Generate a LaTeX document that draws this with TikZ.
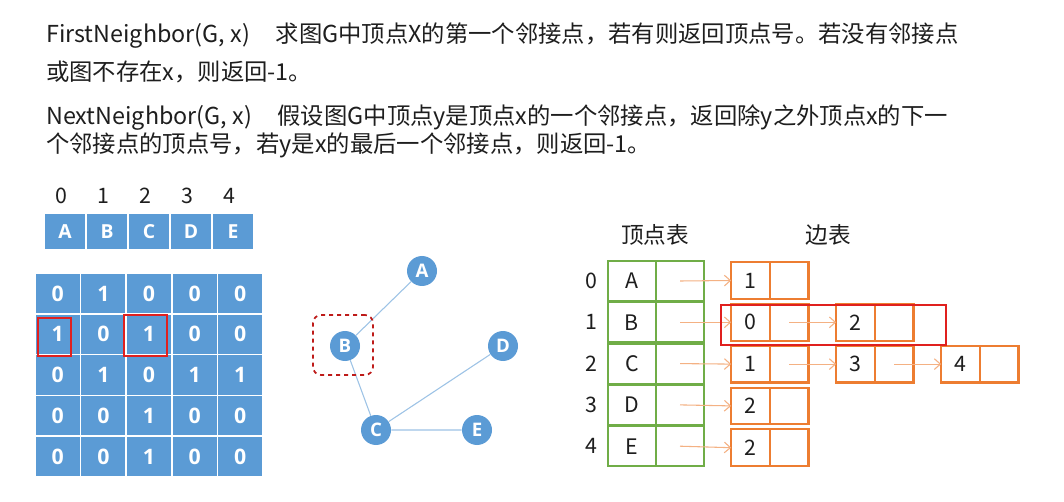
\documentclass[tikz,border=0pt]{standalone}
\usepackage{fontspec}
\setmainfont{Noto Sans CJK SC}
\newfontfamily\cellfont{Open Sans}
\usetikzlibrary{arrows.meta,positioning}

\definecolor{cellblue}{HTML}{5B9BD5}
\definecolor{edgeblue}{HTML}{9DC3E6}
\definecolor{vgreen}{HTML}{70AD47}
\definecolor{eorange}{HTML}{ED7D31}
\definecolor{ptrorange}{HTML}{F4B183}
\definecolor{mark}{HTML}{E0201E}
\definecolor{ink}{HTML}{1E1E1E}

\tikzset{
  txt/.style={anchor=base west,inner sep=0pt,text=ink,font=\fontsize{17.5}{22}\selectfont},
  idx/.style={text=ink,font=\fontsize{16}{16}\selectfont},
  head/.style={fill=cellblue,text=white,font=\cellfont\bfseries\fontsize{14.5}{14.5}\selectfont,
    minimum width=30pt,minimum height=26pt,inner sep=0pt},
  mcell/.style={fill=cellblue,text=white,font=\cellfont\bfseries\fontsize{16}{16}\selectfont,
    minimum width=33pt,minimum height=29.5pt,inner sep=0pt},
  vertex/.style={circle,fill=cellblue,text=white,font=\cellfont\bfseries\fontsize{14}{14}\selectfont,
    minimum size=22.5pt,inner sep=0pt},
  vcell/.style={draw=vgreen,line width=1.6pt,outer sep=0pt,minimum width=36pt,minimum height=30pt,
    inner sep=0pt,text=ink,font=\fontsize{16}{16}\selectfont},
  ecell/.style={draw=eorange,line width=1.6pt,outer sep=0pt,minimum width=29pt,minimum height=27.5pt,
    inner sep=0pt,text=ink,font=\fontsize{16}{16}\selectfont},
  ptr/.style={draw=ptrorange,line width=0.8pt,-{Straight Barb[length=4.5pt,width=8pt]}},
  hl/.style={draw=mark,line width=0.8pt}
}

\begin{document}
\begin{tikzpicture}[x=0.75pt,y=-0.75pt]
  \useasboundingbox[fill=white] (0,0) rectangle (1064,502);

  % description
  \node[txt] (l1) at (46,43) {FirstNeighbor(G, x)\hspace{1.1em}求图G中顶点X的第一个邻接点，若有则返回顶点号。若没有邻接点};
  \node[txt] (l2) at (46,81) {或图不存在x，则返回-1。};
  \node[txt] (l3) at (46,125) {NextNeighbor(G, x)\hspace{1.1em}假设图G中顶点y是顶点x的一个邻接点，返回除y之外顶点x的下一};
  \node[txt] (l4) at (46,153) {个邻接点的顶点号，若y是x的最后一个邻接点，则返回-1。};

  % vertex array and adjacency matrix
  \foreach \name [count=\c from 0] in {A,B,C,D,E} {
    \node[idx] (i\c) at (61+42*\c,196) {\c};
    \node[head] (h\c) at (65+42*\c,231.5) {\name};
  }
  \foreach \vals [count=\r from 0] in {{0,1,0,0,0},{1,0,1,0,0},{0,1,0,1,1},{0,0,1,0,0},{0,0,1,0,0}} {
    \foreach \v [count=\c from 0] in \vals
      \node[mcell] (m\r\c) at (57.8+45.6*\c,293.4+40.8*\r) {\v};
  }
  \draw[hl] (38,318) rectangle (71,356);
  \draw[hl] (124,315) rectangle (167,356);

  % the graph
  \node[vertex] (A) at (422,271) {A};
  \node[vertex] (B) at (345,346) {B};
  \node[vertex] (D) at (503,346) {D};
  \node[vertex] (C) at (376,430) {C};
  \node[vertex] (E) at (477,430) {E};
  \path[draw=edgeblue,line width=0.8pt] (A) -- (B) (B) -- (C) (C) -- (D) (C) -- (E);
  \node[draw=mark!85!black,dashed,line width=1.3pt,rounded corners=6pt,minimum size=45pt] (Bbox) at (343,345) {};

  % adjacency list
  \node[font=\fontsize{17}{17}\selectfont,text=ink] (vt) at (655,235) {顶点表};
  \node[font=\fontsize{17}{17}\selectfont,text=ink] (et) at (828,235) {边表};
  \foreach \name [count=\r from 0] in {A,B,C,D,E} {
    \node[idx] (n\r) at (591,281+41.3*\r) {\r};
    \node[vcell] (v\r) at (632,281+41.3*\r) {\name};
    \node[vcell] (p\r) [right=0pt of v\r] {};
  }
  \foreach \v [count=\r from 0] in {1,0,1,2,2} {
    \node[ecell] (e\r0) at (750.5,280.5+41.8*\r) {\v};
    \node[ecell] (f\r0) [right=0pt of e\r0] {};
    \draw[ptr] (p\r.center) -- (e\r0.west);
  }
  \node[ecell] (e11) at (855.5,322.3) {2};
  \node[ecell] (f11) [right=0pt of e11] {};
  \node[ecell] (e21) at (855.5,364.1) {3};
  \node[ecell] (f21) [right=0pt of e21] {};
  \node[ecell] (e22) at (960.5,364.1) {4};
  \node[ecell] (f22) [right=0pt of e22] {};
  \draw[ptr] (f10.center) -- (e11.west);
  \draw[ptr] (f20.center) -- (e21.west);
  \draw[ptr] (f21.center) -- (e22.west);
  \draw[hl] (721,305) rectangle (946,345);
\end{tikzpicture}
\end{document}
